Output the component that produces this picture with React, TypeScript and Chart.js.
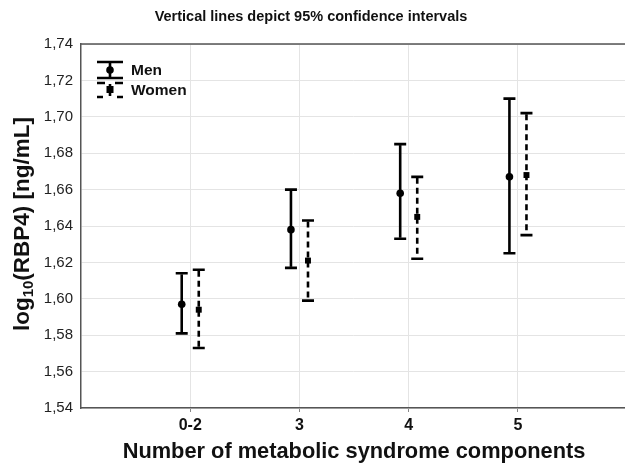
import React, { useEffect, useRef } from "react";
import { Chart, registerables } from "chart.js";

Chart.register(...registerables);

const categories = ["0-2", "3", "4", "5"];
const menMean = [1.597, 1.638, 1.658, 1.667];
const menLow = [1.581, 1.617, 1.633, 1.625];
const menHigh = [1.614, 1.66, 1.685, 1.71];
const womenMean = [1.594, 1.621, 1.645, 1.668];
const womenLow = [1.573, 1.599, 1.622, 1.635];
const womenHigh = [1.616, 1.643, 1.667, 1.702];
const yTicks = [1.54, 1.56, 1.58, 1.6, 1.62, 1.64, 1.66, 1.68, 1.7, 1.72, 1.74];

const FONT = "'Liberation Sans', Arial, sans-serif";
const DODGE = 0.078;
const CAP = 6;

export default function App() {
  const ref = useRef<HTMLCanvasElement | null>(null);

  useEffect(() => {
    if (!ref.current) return;
    document.body.style.margin = "0";

    const errorBars = {
      id: "errorBars",
      beforeDatasetsDraw(chart: any) {
        const { ctx } = chart;
        const xs = chart.scales.x;
        const ys = chart.scales.y;
        const series = [
          { low: menLow, high: menHigh, off: -DODGE, dash: [] as number[] },
          { low: womenLow, high: womenHigh, off: DODGE, dash: [6, 4] },
        ];
        ctx.save();
        ctx.strokeStyle = "#000";
        ctx.lineWidth = 2.6;
        series.forEach((s) => {
          categories.forEach((_, i) => {
            const x = xs.getPixelForValue(i + 1 + s.off);
            const y1 = ys.getPixelForValue(s.low[i]);
            const y2 = ys.getPixelForValue(s.high[i]);
            ctx.setLineDash(s.dash);
            ctx.beginPath();
            ctx.moveTo(x, y2 + 1);
            ctx.lineTo(x, y1 - 1);
            ctx.stroke();
            ctx.setLineDash([]);
            ctx.beginPath();
            ctx.moveTo(x - CAP, y1);
            ctx.lineTo(x + CAP, y1);
            ctx.moveTo(x - CAP, y2);
            ctx.lineTo(x + CAP, y2);
            ctx.stroke();
          });
        });
        ctx.restore();
      },
      afterDraw(chart: any) {
        const { ctx, chartArea } = chart;
        ctx.save();
        // top frame line
        ctx.strokeStyle = "#555";
        ctx.lineWidth = 1.5;
        ctx.beginPath();
        ctx.moveTo(chartArea.left, chartArea.top);
        ctx.lineTo(chartArea.right, chartArea.top);
        ctx.stroke();

        // title
        ctx.fillStyle = "#111";
        ctx.font = `bold 14.5px ${FONT}`;
        ctx.textAlign = "center";
        ctx.textBaseline = "middle";
        ctx.fillText("Vertical lines depict 95% confidence intervals", 311, 17);

        // x axis title
        ctx.font = `bold 21.8px ${FONT}`;
        ctx.fillText("Number of metabolic syndrome components", 354, 452);

        // y axis title with subscript
        ctx.save();
        ctx.translate(23, (chartArea.top + chartArea.bottom) / 2 - 2);
        ctx.rotate(-Math.PI / 2);
        const big = `bold 22.5px ${FONT}`;
        const small = `bold 15px ${FONT}`;
        ctx.font = big;
        const w1 = ctx.measureText("log").width;
        const w3 = ctx.measureText("(RBP4) [ng/mL]").width;
        ctx.font = small;
        const w2 = ctx.measureText("10").width;
        let x = -(w1 + w2 + w3) / 2;
        ctx.textAlign = "left";
        ctx.font = big;
        ctx.fillText("log", x, 0);
        x += w1;
        ctx.font = small;
        ctx.fillText("10", x, 6);
        x += w2;
        ctx.font = big;
        ctx.fillText("(RBP4) [ng/mL]", x, 0);
        ctx.restore();

        // legend
        ctx.strokeStyle = "#000";
        ctx.fillStyle = "#000";
        ctx.lineWidth = 2.6;
        const lx = 110;
        // Men
        ctx.beginPath();
        ctx.moveTo(lx - 13, 62);
        ctx.lineTo(lx + 13, 62);
        ctx.moveTo(lx - 13, 78);
        ctx.lineTo(lx + 13, 78);
        ctx.moveTo(lx, 62);
        ctx.lineTo(lx, 78);
        ctx.stroke();
        ctx.beginPath();
        ctx.arc(lx, 70, 3.8, 0, Math.PI * 2);
        ctx.fill();
        // Women
        ctx.beginPath();
        ctx.moveTo(lx - 13, 83);
        ctx.lineTo(lx - 5, 83);
        ctx.moveTo(lx + 5, 83);
        ctx.lineTo(lx + 13, 83);
        ctx.moveTo(lx - 13, 97);
        ctx.lineTo(lx - 7, 97);
        ctx.moveTo(lx + 7, 97);
        ctx.lineTo(lx + 13, 97);
        ctx.moveTo(lx, 84);
        ctx.lineTo(lx, 87);
        ctx.moveTo(lx, 92);
        ctx.lineTo(lx, 96);
        ctx.stroke();
        ctx.fillRect(lx - 3.5, 86, 7, 7);
        ctx.font = `bold 15.5px ${FONT}`;
        ctx.textAlign = "left";
        ctx.fillStyle = "#111";
        ctx.fillText("Men", 131, 71);
        ctx.fillText("Women", 131, 91);
        ctx.restore();
      },
    };

    const chart = new Chart(ref.current, {
      type: "scatter",
      data: {
        datasets: [
          {
            label: "Men",
            data: categories.map((_, i) => ({ x: i + 1 - DODGE, y: menMean[i] })),
            pointStyle: "circle",
            pointRadius: 3.8,
            pointHoverRadius: 3.8,
            backgroundColor: "#000",
            borderColor: "#000",
            borderWidth: 0,
          },
          {
            label: "Women",
            data: categories.map((_, i) => ({ x: i + 1 + DODGE, y: womenMean[i] })),
            pointStyle: "rect",
            pointRadius: 4.2,
            pointHoverRadius: 4.2,
            backgroundColor: "#000",
            borderColor: "#000",
            borderWidth: 0,
          },
        ],
      },
      options: {
        responsive: false,
        animation: false,
        layout: { autoPadding: false, padding: { top: 44, right: 0, left: 0, bottom: 0 } },
        plugins: {
          legend: { display: false },
          title: { display: false },
          tooltip: { enabled: false },
        },
        scales: {
          x: {
            type: "linear",
            min: 0,
            max: 4.98,
            afterFit: (s: any) => {
              s.height = 57;
              s.paddingLeft = 0;
              s.paddingRight = 0;
            },
            afterBuildTicks: (s: any) => {
              s.ticks = categories.map((_, i) => ({ value: i + 1 }));
            },
            ticks: {
              callback: (v: any) => categories[Number(v) - 1] ?? "",
              font: { family: FONT, size: 16, weight: "bold" },
              color: "#111",
              padding: 4,
              maxRotation: 0,
            },
            grid: {
              color: "#e4e4e4",
              lineWidth: 1,
              drawTicks: true,
              tickLength: 4,
              tickColor: "#888",
            },
            border: { display: true, color: "#555", width: 1.5 },
          },
          y: {
            type: "linear",
            min: 1.54,
            max: 1.74,
            afterFit: (s: any) => {
              s.width = 81;
              s.paddingTop = 0;
              s.paddingBottom = 0;
            },
            afterBuildTicks: (s: any) => {
              s.ticks = yTicks.map((v) => ({ value: v }));
            },
            ticks: {
              callback: (v: any) => Number(v).toFixed(2).replace(".", ","),
              font: { family: FONT, size: 15 },
              color: "#222",
              padding: 8,
            },
            grid: { color: "#e4e4e4", lineWidth: 1, drawTicks: false },
            border: { display: true, color: "#555", width: 1.5 },
          },
        },
      },
      plugins: [errorBars],
    });

    return () => chart.destroy();
  }, []);

  return (
    <div style={{ position: "fixed", left: 0, top: 0, width: 625, height: 465, background: "#fff" }}>
      <canvas ref={ref} width={625} height={465} />
    </div>
  );
}
